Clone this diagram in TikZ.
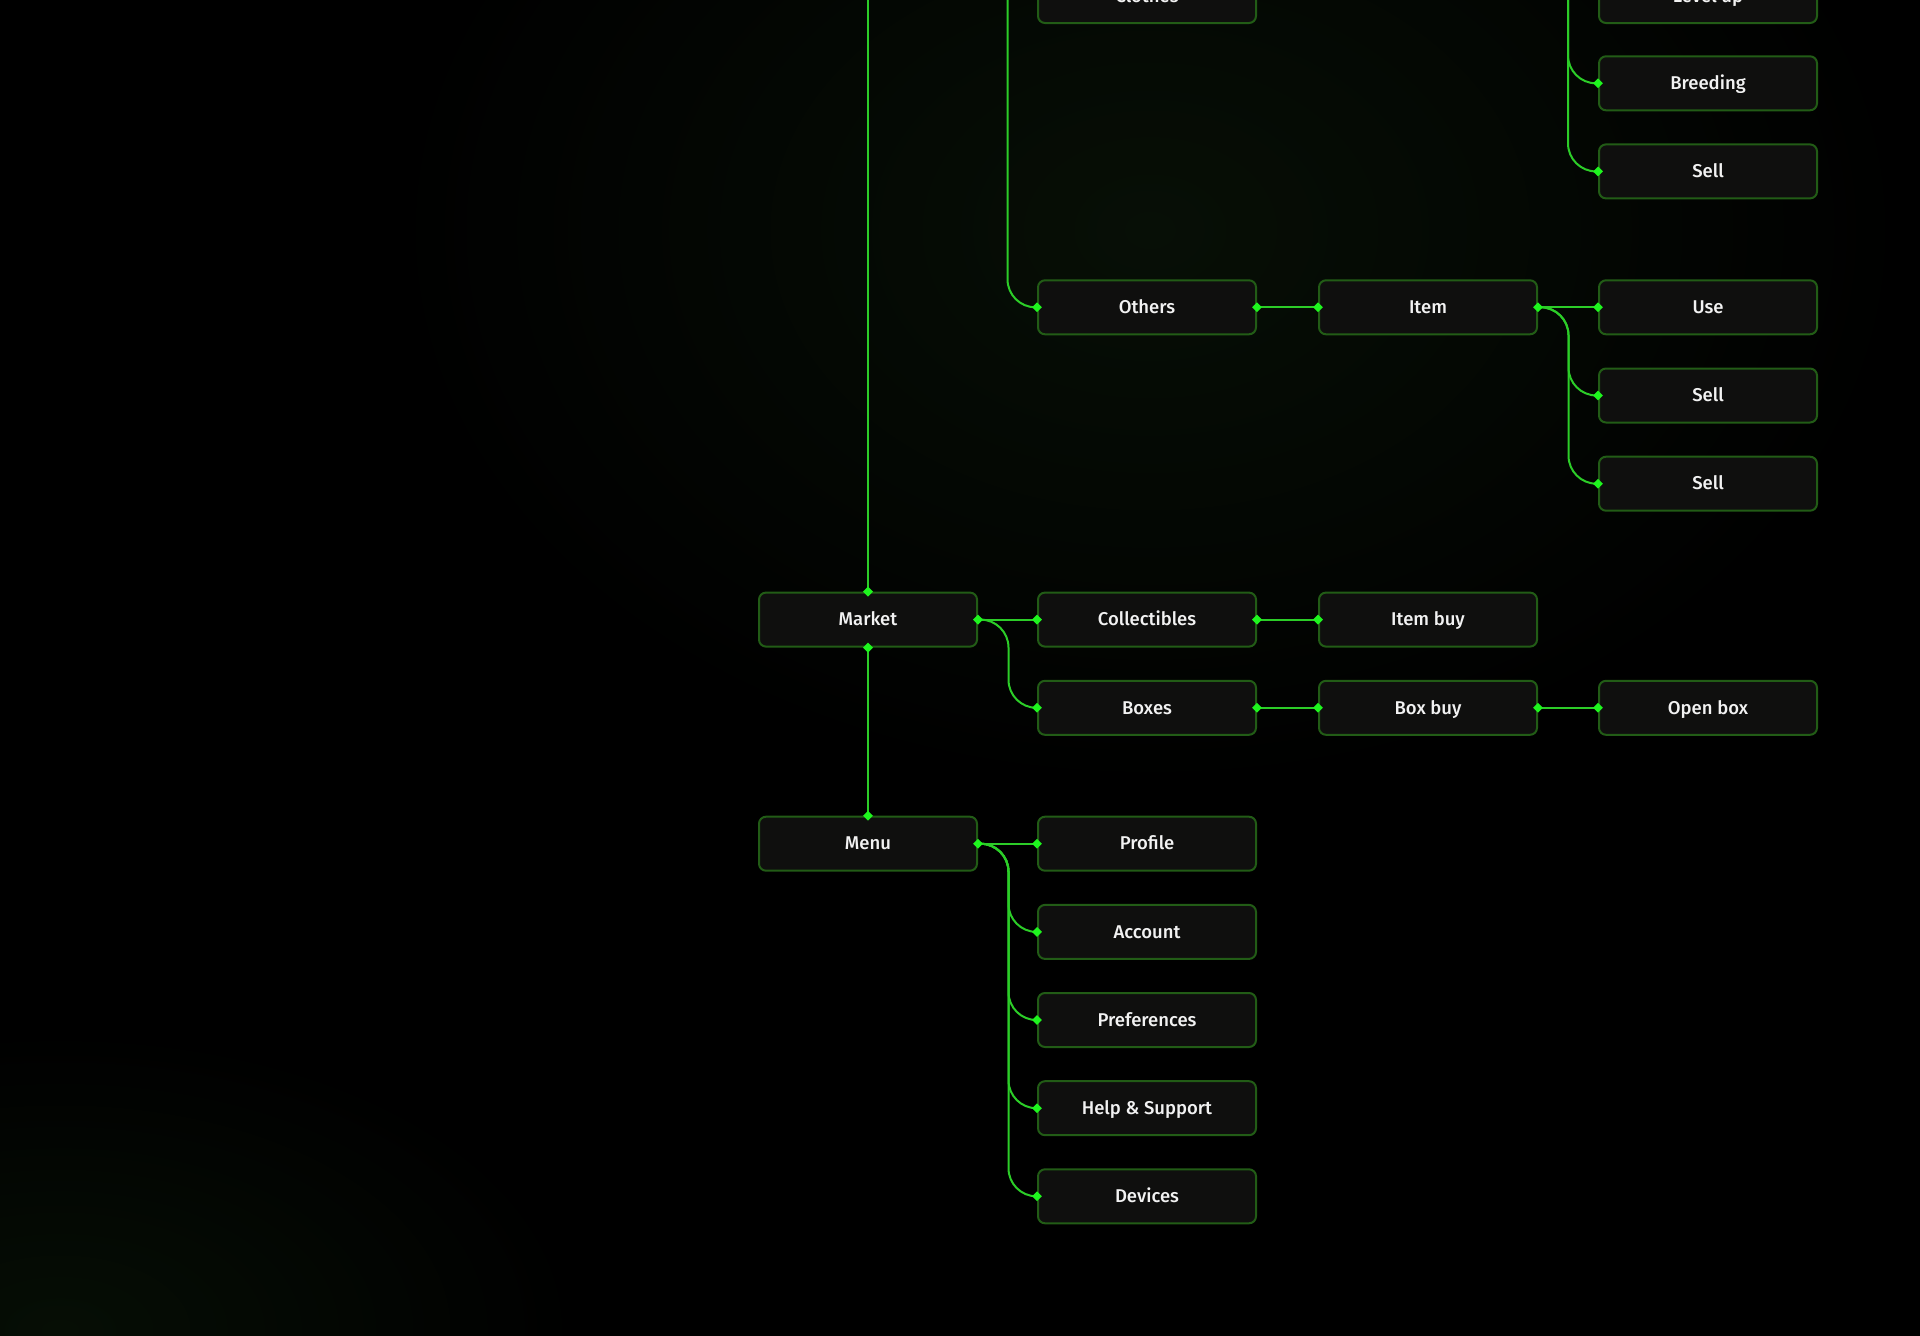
\documentclass[tikz,border=0pt]{standalone}
\usepackage{fontspec}
\setmainfont{Fira Sans}[UprightFont=* Medium]
\usetikzlibrary{shapes.geometric}
\definecolor{boxfill}{RGB}{15,15,14}
\definecolor{bordergreen}{RGB}{34,92,22}
\definecolor{linegreen}{RGB}{44,205,40}
\definecolor{dotgreen}{RGB}{30,245,30}
\definecolor{txt}{RGB}{242,242,242}
\definecolor{bgA}{RGB}{7,15,6}
\definecolor{bgB}{RGB}{6,14,5}
\tikzset{
  box/.style={draw=bordergreen, fill=boxfill, line width=2pt, rounded corners=7pt,
    minimum width=218pt, minimum height=54pt, inner sep=0pt, text=txt,
    text height=12.5pt, text depth=0pt,
    font=\fontsize{18.5}{20}\selectfont},
  conn/.style={draw=linegreen, line width=2pt, rounded corners=28pt},
  dmd/.style={diamond, fill=dotgreen, inner sep=0pt, minimum size=10pt}
}
\begin{document}
\begin{tikzpicture}[x=1pt,y=-1pt]
\useasboundingbox (0,0) rectangle (1920,1336);
\fill[black] (0,0) rectangle (1920,1336);
\begin{scope}
\clip (0,0) rectangle (1920,1336);
\shade[inner color=bgA, outer color=black] (1150,230) ellipse (760 and 560);
\shade[inner color=bgB, outer color=black] (60,1330) ellipse (520 and 300);
\end{scope}

% columns: 868, 1147, 1428, 1708
\begin{scope}
\clip (0,0) rectangle (1920,1336);
\node[box] (clothes) at (1147,-4) {Clothes};
\node[box] (levelup) at (1708,-4) {Level up};
\end{scope}
\node[box] (breed)   at (1708,83.3)  {Breeding};
\node[box] (sellA)   at (1708,171.4) {Sell};
\node[box] (others)  at (1147,307.3) {Others};
\node[box] (item)    at (1428,307.3) {Item};
\node[box] (use)     at (1708,307.3) {Use};
\node[box] (sellB)   at (1708,395.5) {Sell};
\node[box] (sellC)   at (1708,483.7) {Sell};
\node[box] (market)  at (868,619.6)  {Market};
\node[box] (coll)    at (1147,619.6) {Collectibles};
\node[box] (itembuy) at (1428,619.6) {Item buy};
\node[box] (boxes)   at (1147,707.8) {Boxes};
\node[box] (boxbuy)  at (1428,707.8) {Box buy};
\node[box] (openbox) at (1708,707.8) {Open box};
\node[box] (menu)    at (868,843.7)  {Menu};
\node[box] (profile) at (1147,843.7) {Profile};
\node[box] (account) at (1147,931.9) {Account};
\node[box] (prefs)   at (1147,1020)  {Preferences};
\node[box] (help)    at (1147,1108.2){Help \& Support};
\node[box] (devices) at (1147,1196.3){Devices};

\coordinate (t1) at (868,0);
\coordinate (t2) at (1007.5,0);
\coordinate (t3) at (1568,0);

% connectors
\draw[conn] (t1) -- (market.north);
\draw[conn] (market.south) -- (menu.north);
\draw[conn] (market.east) -- (coll.west);
\draw[conn] (market.east) -- ++(30.5,0) |- (boxes.west);
\draw[conn] (coll.east) -- (itembuy.west);
\draw[conn] (boxes.east) -- (boxbuy.west);
\draw[conn] (boxbuy.east) -- (openbox.west);
\draw[conn] (menu.east) -- (profile.west);
\foreach \c in {account,prefs,help,devices}
  \draw[conn] (menu.east) -- ++(30.5,0) |- (\c.west);
\draw[conn] (t2) |- (others.west);
\draw[conn] (others.east) -- (item.west);
\draw[conn] (item.east) -- (use.west);
\foreach \c in {sellB,sellC}
  \draw[conn] (item.east) -- ++(30.5,0) |- (\c.west);
\foreach \c in {breed,sellA}
  \draw[conn] (t3) |- (\c.west);

% connection markers
\foreach \a [count=\i] in {market.north,market.south,menu.north,market.east,coll.west,coll.east,
  boxes.west,boxes.east,itembuy.west,boxbuy.west,boxbuy.east,openbox.west,menu.east,
  profile.west,account.west,prefs.west,help.west,devices.west,others.west,others.east,
  item.west,item.east,use.west,sellB.west,sellC.west,breed.west,sellA.west}
  \node[dmd] (d\i) at (\a) {};
\end{tikzpicture}
\end{document}
